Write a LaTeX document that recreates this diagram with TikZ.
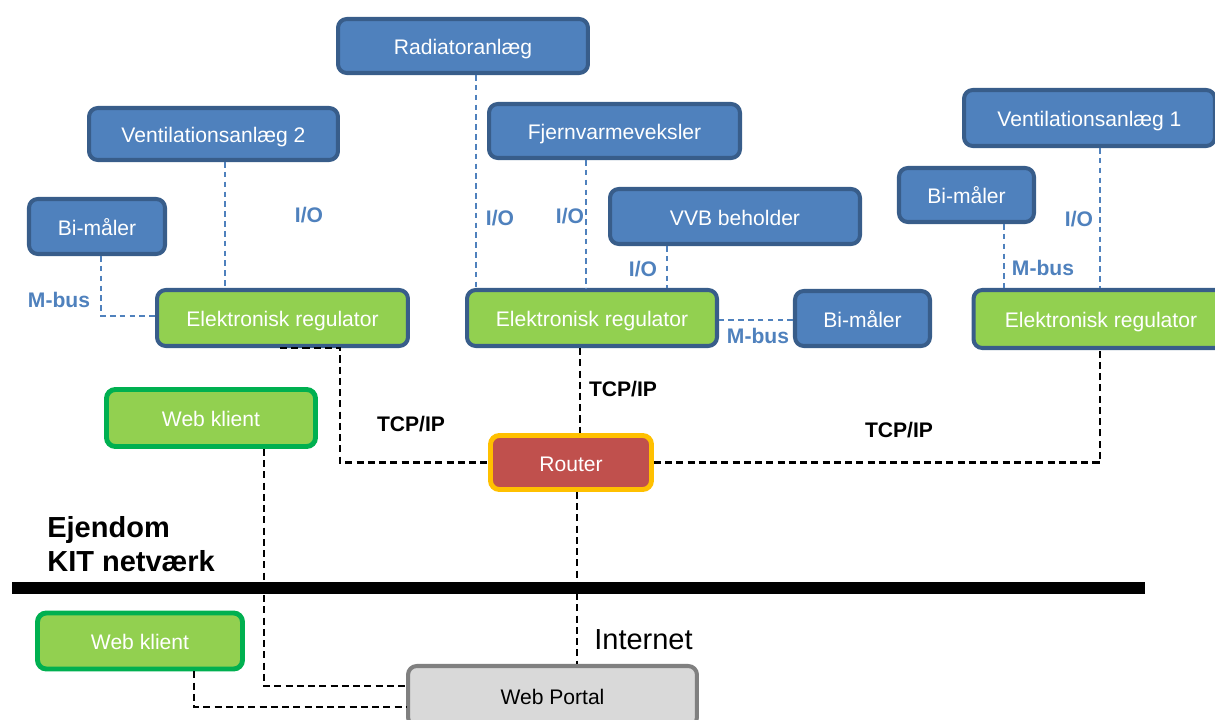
\documentclass[tikz,border=0pt]{standalone}
\usepackage{fontspec}
\setmainfont{Liberation Sans}
\usetikzlibrary{calc}

\definecolor{boxblue}{RGB}{79,129,189}
\definecolor{boxedge}{RGB}{56,93,138}
\definecolor{regfill}{RGB}{146,208,80}
\definecolor{clientedge}{RGB}{0,176,80}
\definecolor{routerfill}{RGB}{192,80,77}
\definecolor{routeredge}{RGB}{255,192,0}
\definecolor{portalfill}{RGB}{217,217,217}
\definecolor{portaledge}{RGB}{128,128,128}

\begin{document}
\begin{tikzpicture}[
  x=0.02cm, y=-0.02cm,
  unit/.style={rounded corners=5pt, line width=2.3pt, inner sep=0pt, align=center,
    text=white, font=\fontsize{12}{14}\selectfont, text height=10pt, text depth=0pt},
  bluebox/.style={unit, fill=boxblue, draw=boxedge},
  regbox/.style={unit, fill=regfill, draw=boxedge},
  clientbox/.style={unit, fill=regfill, draw=clientedge, line width=2.8pt},
  routerbox/.style={unit, fill=routerfill, draw=routeredge, line width=2.8pt},
  portalbox/.style={unit, fill=portalfill, draw=portaledge, text=black},
  buslink/.style={draw=boxblue, line width=1pt, dash pattern=on 3.2pt off 2.4pt},
  tcplink/.style={draw=black, line width=1.2pt, dash pattern=on 4pt off 2.4pt},
  buslabel/.style={text=boxblue, font=\bfseries\fontsize{12}{14}\selectfont, inner sep=0pt},
  tcplabel/.style={text=black, font=\bfseries\fontsize{12}{14}\selectfont, inner sep=0pt}
]
\useasboundingbox (0,0) rectangle (1215,720);

% helper coordinates for the vertical runs of the connectors
\coordinate (xmb1) at (101,0);
\coordinate (xv2) at (225,0);
\coordinate (xrad) at (476,0);
\coordinate (xfjv) at (586,0);
\coordinate (xvvb) at (667,0);
\coordinate (xbm2) at (1004,0);
\coordinate (xv1) at (1100,0);
\coordinate (xr1a) at (280,0);
\coordinate (xr1b) at (340,0);
\coordinate (xr2) at (580,0);
\coordinate (xrt) at (577,0);
\coordinate (xw1) at (264,0);
\coordinate (xw2) at (194,0);
\coordinate (ymb1) at (0,316);
\coordinate (ymb3) at (0,320);
\coordinate (yw1) at (0,686);
\coordinate (yw2) at (0,707);

% boundary between the building network and the internet
\draw[line width=6.8pt] (12,588) coordinate (bl) -- (1145,588) coordinate (br);

% field devices
\node[bluebox, minimum width=5.0cm, minimum height=1.08cm] (rad) at (463,46) {Radiatoranlæg};
\node[bluebox, minimum width=4.98cm, minimum height=1.04cm] (vent2) at (213.5,134) {Ventilationsanlæg 2};
\node[bluebox, minimum width=5.02cm, minimum height=1.08cm] (fjv) at (614.5,131) {Fjernvarmeveksler};
\node[bluebox, minimum width=5.02cm, minimum height=1.12cm] (vent1) at (1089.5,118) {Ventilationsanlæg 1};
\node[bluebox, minimum width=2.72cm, minimum height=1.1cm] (bm1) at (97,226.5) {Bi-måler};
\node[bluebox, minimum width=5.0cm, minimum height=1.1cm] (vvb) at (735,216.5) {VVB beholder};
\node[bluebox, minimum width=2.7cm, minimum height=1.08cm] (bm2) at (966.5,195) {Bi-måler};
\node[bluebox, minimum width=2.7cm, minimum height=1.1cm] (bm3) at (862.5,318.5) {Bi-måler};

% controllers
\node[regbox, minimum width=5.02cm, minimum height=1.12cm] (reg1) at (282.5,318) {Elektronisk regulator};
\node[regbox, minimum width=5.0cm, minimum height=1.12cm] (reg2) at (592,318) {Elektronisk regulator};
\node[regbox, minimum width=5.1cm, minimum height=1.16cm] (reg3) at (1101,319) {Elektronisk regulator};

% network
\node[clientbox, minimum width=4.18cm, minimum height=1.14cm] (web1) at (211,418) {Web klient};
\node[routerbox, minimum width=3.22cm, minimum height=1.08cm] (router) at (571,462.5) {Router};
\node[clientbox, minimum width=4.1cm, minimum height=1.12cm] (web2) at (140,641) {Web klient};
\node[portalbox, minimum width=5.78cm, minimum height=1.2cm] (portal) at (552.5,696) {Web Portal};

% M-bus and I/O wiring
\draw[buslink] (bm1.south -| xmb1) |- (reg1.west |- ymb1);
\draw[buslink] (vent2.south -| xv2) -- (reg1.north -| xv2);
\draw[buslink] (rad.south -| xrad) -- (reg2.north -| xrad);
\draw[buslink] (fjv.south -| xfjv) -- (reg2.north -| xfjv);
\draw[buslink] (vvb.south -| xvvb) -- (reg2.north -| xvvb);
\draw[buslink] (bm3.west |- ymb3) -- (reg2.east |- ymb3);
\draw[buslink] (bm2.south -| xbm2) -- (reg3.north -| xbm2);
\draw[buslink] (vent1.south -| xv1) -- (reg3.north -| xv1);

% TCP/IP wiring
\draw[tcplink] (reg1.south -| xr1a) -- (reg1.south -| xr1b) |- (router.west);
\draw[tcplink] (reg2.south -| xr2) -- (router.north -| xr2);
\draw[tcplink] (router.east) -| (reg3.south -| xv1);
\draw[tcplink] (router.south -| xrt) -- (portal.north -| xrt);
\draw[tcplink] (web1.south -| xw1) |- (portal.west |- yw1);
\draw[tcplink] (web2.south -| xw2) |- (portal.west |- yw2);

% wiring labels
\node[buslabel] (lmb1) at (59,300) {M-bus};
\node[buslabel] (lio1) at (309,215) {I/O};
\node[buslabel] (lio2) at (500,218) {I/O};
\node[buslabel] (lio3) at (570,216) {I/O};
\node[buslabel] (lio4) at (643,269) {I/O};
\node[buslabel] (lmb3) at (758,336) {M-bus};
\node[buslabel] (lmb2) at (1043,268) {M-bus};
\node[buslabel] (lio5) at (1079,219) {I/O};
\node[tcplabel] (ltcp1) at (411,424) {TCP/IP};
\node[tcplabel] (ltcp2) at (623,389) {TCP/IP};
\node[tcplabel] (ltcp3) at (899,430) {TCP/IP};

% zone captions
\node[anchor=west, align=left, inner sep=0pt, font=\bfseries\fontsize{16.5}{19.3}\selectfont] (zone) at (47,544) {Ejendom\\KIT netværk};
\node[inner sep=0pt, font=\fontsize{16.5}{19.3}\selectfont] (inet) at (643.5,640) {Internet};
\end{tikzpicture}
\end{document}
